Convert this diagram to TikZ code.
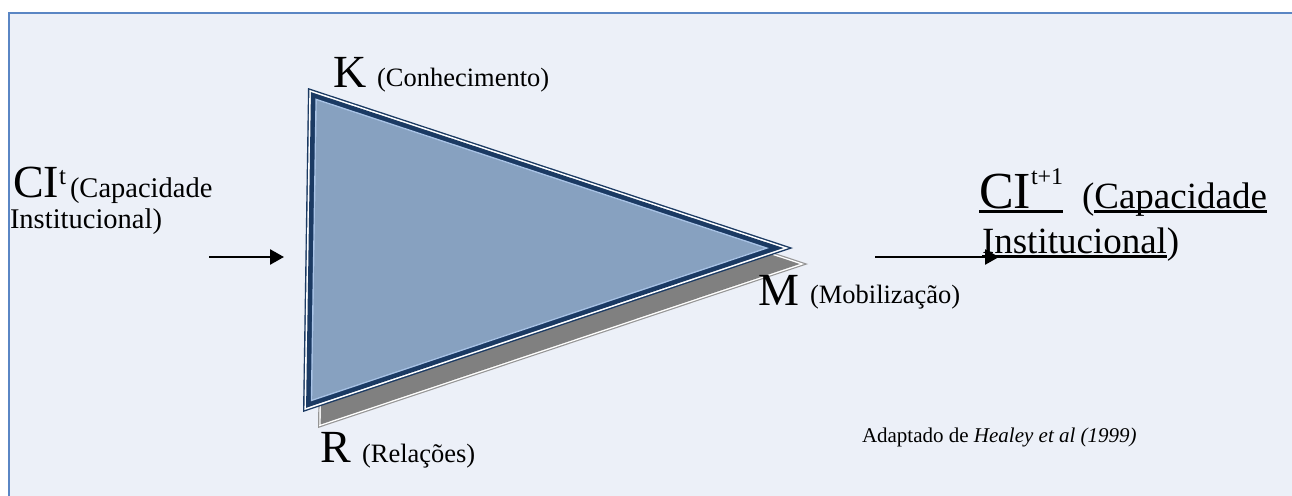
\documentclass[tikz,border=0pt]{standalone}
\usepackage{fontspec}
\setmainfont{Liberation Serif}
\usetikzlibrary{calc,arrows.meta}
\definecolor{bgfill}{HTML}{ECF0F8}
\definecolor{frameblue}{HTML}{5A86C4}
\definecolor{navy}{HTML}{1B3A63}
\definecolor{lightline}{HTML}{A9C3E6}
\definecolor{trifill}{HTML}{87A1C0}
\definecolor{shadowgray}{HTML}{808080}
\definecolor{shadowline}{HTML}{959595}
\newsavebox{\ulbox}
\newcommand{\myul}[1]{\sbox{\ulbox}{#1}\rlap{\vrule height -2pt depth 4.6pt width \wd\ulbox}\usebox{\ulbox}}
\newcommand{\insettri}[5]{% #1 inset, #2 colour, #3 #4 vertices (third is C#3), #5 centre
  \fill[#2] ($(#5)!{1-#1/116.9}!(#3)$) -- ($(#5)!{1-#1/116.9}!(#4)$) -- ($(#5)!{1-#1/116.9}!(C#3)$) -- cycle;}
\tikzset{
  lbl/.style={anchor=base west, inner sep=0pt, outer sep=0pt, text=black},
  arr/.style={line width=2.6pt, -{Triangle[length=14pt,width=15pt]}},
}
\begin{document}
\begin{tikzpicture}[x=1pt,y=-1pt]
\useasboundingbox (0,0) rectangle (1292,495);
\fill[white] (0,0) rectangle (1292,495);
\fill[bgfill] (9,13) rectangle (1300,505);
\draw[frameblue,line width=1.6pt] (9,505) -- (9,13) -- (1300,13);
% triangle geometry (main and shadow)
\coordinate (A) at (308,88);
\coordinate (B) at (303,412);
\coordinate (CA) at (793,248);
\coordinate (I) at (422.4,248.8);
\coordinate (As) at ($(A)+(15,16)$);
\coordinate (Bs) at ($(B)+(15,16)$);
\coordinate (CAs) at ($(CA)+(15,16)$);
\coordinate (Is) at ($(I)+(15,16)$);
% shadow
\insettri{0}{shadowline}{As}{Bs}{Is}
\insettri{1.2}{white}{As}{Bs}{Is}
\insettri{2.6}{shadowgray}{As}{Bs}{Is}
% main triangle
\insettri{0}{navy}{A}{B}{I}
\insettri{1.4}{white}{A}{B}{I}
\insettri{3.0}{navy}{A}{B}{I}
\insettri{7.6}{lightline}{A}{B}{I}
\insettri{9.0}{trifill}{A}{B}{I}
% labels at vertices
\node[lbl] (k) at (333,87) {\fontsize{46}{50}\selectfont K};
\node[lbl] (kt) at (377,86) {\fontsize{26.5}{30}\selectfont (Conhecimento)};
\node[lbl] (r) at (320,462) {\fontsize{46}{50}\selectfont R};
\node[lbl] (rt) at (362,462) {\fontsize{26.5}{30}\selectfont (Relações)};
\node[lbl] (m) at (758,305) {\fontsize{46}{50}\selectfont M};
\node[lbl] (mt) at (810,303) {\fontsize{26.5}{30}\selectfont (Mobilização)};
% left text
\node[lbl] (ci) at (13,197) {\fontsize{46}{50}\selectfont CI\raisebox{13pt}{\fontsize{25}{30}\selectfont t}};
\node[lbl] (cit) at (70,197) {\fontsize{28.5}{32}\selectfont (Capacidade};
\node[lbl] (ci2) at (10,228) {\fontsize{28.5}{32}\selectfont Institucional)};
% right text
\node[lbl] (co) at (979,208) {\fontsize{52}{56}\selectfont \myul{CI\raisebox{24pt}{\fontsize{24}{28}\selectfont t+1}}};
\node[lbl] (cot) at (1082,208) {\fontsize{37}{42}\selectfont (\myul{Capacidade}};
\node[lbl] (co2) at (982,253) {\fontsize{37}{42}\selectfont \myul{Institucional})};
% source
\node[lbl] (src) at (862,442) {\fontsize{21}{25}\selectfont Adaptado de \textit{Healey et al (1999)}};
% arrows
\coordinate (a1s) at (209,257);
\coordinate (a1e) at (284,257);
\coordinate (a2s) at (875,257);
\coordinate (a2e) at (999,257);
\draw[arr] (a1s) -- (a1e);
\draw[arr] (a2s) -- (a2e);
\end{tikzpicture}
\end{document}
